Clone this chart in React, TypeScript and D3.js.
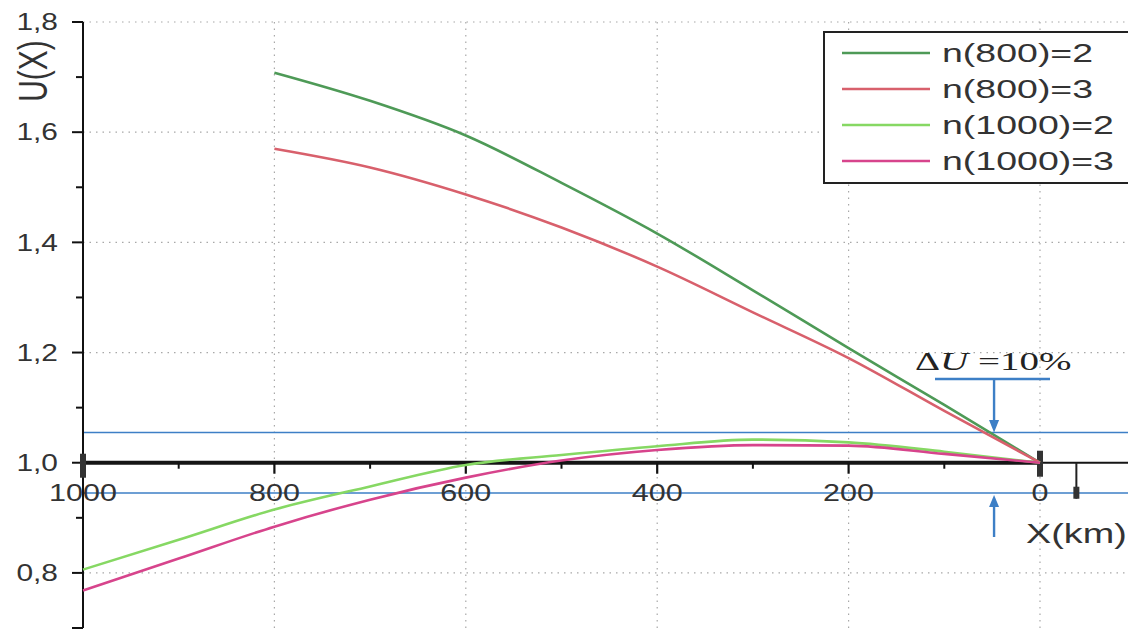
import * as d3 from "d3";

// distance along the line, km (1000 -> 0 is left to right)
const km800 = [800, 700, 600, 500, 400, 300, 200, 100, 0];
const km1000 = [1000, 900, 800, 700, 600, 500, 400, 300, 200, 100, 0];

const u800n2 = [1.708, 1.657, 1.594, 1.508, 1.416, 1.313, 1.208, 1.105, 1.0];
const u800n3 = [1.57, 1.536, 1.487, 1.427, 1.356, 1.273, 1.19, 1.094, 1.0];
const u1000n2 = [0.806, 0.86, 0.915, 0.957, 0.996, 1.014, 1.03, 1.042, 1.037, 1.02, 1.0];
const u1000n3 = [0.768, 0.826, 0.884, 0.933, 0.973, 1.004, 1.023, 1.032, 1.031, 1.016, 1.0];

const seriesNames = ["n(800)=2", "n(800)=3", "n(1000)=2", "n(1000)=3"];
const seriesColors = ["#4e9a57", "#d8606c", "#86d863", "#d7448c"];

const yTicks = [0.8, 1.0, 1.2, 1.4, 1.6, 1.8];
const yMinor = [0.7, 0.9, 1.1, 1.3, 1.5, 1.7];
const xTicks = [1000, 800, 600, 400, 200, 0];
const xMinor = [900, 700, 500, 300, 100];
const bandLevels = [1.055, 0.945];

const W = 1128;
const H = 631;

export default function App() {
  const x = d3.scaleLinear().domain([1000, 0]).range([83, 1040]);
  const y = d3.scaleLinear().domain([0.7, 1.8]).range([628, 22]);

  const series = [
    { km: km800, u: u800n2 },
    { km: km800, u: u800n3 },
    { km: km1000, u: u1000n2 },
    { km: km1000, u: u1000n3 },
  ];

  const line = d3
    .line<[number, number]>()
    .x((d) => x(d[0]))
    .y((d) => y(d[1]))
    .curve(d3.curveMonotoneX);

  const fmt = (v: number) => v.toFixed(1).replace(".", ",");
  const axisY = y(1.0);
  const arrowX = x(48);
  const labelColor = "#333";
  const blue = "#3d7fc6";
  // the source picture is stretched sideways, so the text is widened too
  const sx = 1.3;

  return (
    <svg
      width={W}
      height={H}
      style={{ position: "absolute", left: 0, top: 0, background: "#fff" }}
      fontFamily="Arial, 'Liberation Sans', sans-serif"
    >
      {/* dotted grid */}
      {yTicks
        .filter((t) => t !== 1.0)
        .map((t) => (
          <line
            key={"gy" + t}
            x1={x(1000)}
            x2={W}
            y1={y(t)}
            y2={y(t)}
            stroke="#a8a8a8"
            strokeWidth={1.2}
            strokeDasharray="1.5 5"
          />
        ))}
      {xTicks
        .filter((t) => t !== 1000)
        .map((t) => (
          <line
            key={"gx" + t}
            x1={x(t)}
            x2={x(t)}
            y1={y(1.8)}
            y2={H}
            stroke="#a8a8a8"
            strokeWidth={1.2}
            strokeDasharray="1.5 5"
          />
        ))}

      {/* ±5% band lines */}
      {bandLevels.map((b) => (
        <line
          key={"b" + b}
          x1={x(1000)}
          x2={W}
          y1={y(b)}
          y2={y(b)}
          stroke={blue}
          strokeWidth={1.4}
        />
      ))}

      {/* y axis */}
      <line x1={x(1000)} x2={x(1000)} y1={y(1.8)} y2={y(0.7)} stroke="#111" strokeWidth={2} />
      {yTicks.concat([0.7]).map((t) => (
        <line key={"yt" + t} x1={x(1000) - 11} x2={x(1000)} y1={y(t)} y2={y(t)} stroke="#111" strokeWidth={2} />
      ))}
      {yMinor.map((t) => (
        <line key={"ym" + t} x1={x(1000) - 7} x2={x(1000)} y1={y(t)} y2={y(t)} stroke="#111" strokeWidth={2} />
      ))}
      {yTicks.map((t) => (
        <text
          key={"yl" + t}
          transform={`translate(58,${y(t)}) scale(${sx},1)`}
          dy="0.36em"
          textAnchor="end"
          fontSize={23}
          fill={labelColor}
        >
          {fmt(t)}
        </text>
      ))}
      <text
        transform={`translate(47,71) scale(1.35,1) rotate(-90)`}
        textAnchor="middle"
        fontSize={30}
        fill={labelColor}
      >
        U(X)
      </text>

      {/* x axis at U = 1 */}
      <line x1={x(1000)} x2={x(0)} y1={axisY} y2={axisY} stroke="#151515" strokeWidth={4} />
      <line x1={x(0)} x2={W} y1={axisY} y2={axisY} stroke="#151515" strokeWidth={2} />
      <rect x={x(1000) - 3} y={axisY - 9} width={6} height={24} fill="#333" />
      <rect x={x(0) - 3} y={axisY - 12} width={6} height={26} fill="#333" />
      {xTicks
        .filter((t) => t !== 1000 && t !== 0)
        .map((t) => (
          <line key={"xt" + t} x1={x(t)} x2={x(t)} y1={axisY} y2={axisY + 11} stroke="#111" strokeWidth={2.2} />
        ))}
      {xMinor.map((t) => (
        <line key={"xm" + t} x1={x(t)} x2={x(t)} y1={axisY} y2={axisY + 6} stroke="#111" strokeWidth={2} />
      ))}
      <line x1={x(-38)} x2={x(-38)} y1={axisY} y2={axisY + 36} stroke="#222" strokeWidth={2} />
      <rect x={x(-38) - 3} y={axisY + 24} width={6} height={12} fill="#333" />
      {xTicks.map((t) => (
        <text
          key={"xl" + t}
          transform={`translate(${x(t)},501) scale(${sx},1)`}
          textAnchor="middle"
          fontSize={23.5}
          fill={labelColor}
        >
          {t}
        </text>
      ))}
      <text transform="translate(1026,543) scale(1.4,1)" fontSize={27} fill={labelColor}>
        X(km)
      </text>

      {/* curves */}
      {series.map((s, i) => (
        <path
          key={"s" + i}
          d={line(s.km.map((k, j) => [k, s.u[j]] as [number, number])) || ""}
          fill="none"
          stroke={seriesColors[i]}
          strokeWidth={2.6}
        />
      ))}

      {/* ΔU annotation */}
      <text
        transform="translate(915,370) scale(1.5,1)"
        fontSize={26}
        fontFamily="'Liberation Serif', 'DejaVu Serif', serif"
        fill="#222"
      >
        Δ<tspan fontStyle="italic">U</tspan> =10%
      </text>
      <line x1={935} x2={1050} y1={379} y2={379} stroke={blue} strokeWidth={2.4} />
      <line x1={arrowX} x2={arrowX} y1={379} y2={422} stroke={blue} strokeWidth={2.4} />
      <path
        d={`M${arrowX - 5},${420} L${arrowX + 5},${420} L${arrowX},${y(1.055)} Z`}
        fill={blue}
      />
      <line x1={arrowX} x2={arrowX} y1={537} y2={505} stroke={blue} strokeWidth={2.4} />
      <path
        d={`M${arrowX - 5},${507} L${arrowX + 5},${507} L${arrowX},${y(0.945) + 2} Z`}
        fill={blue}
      />

      {/* legend */}
      <rect x={824} y={32} width={320} height={151} fill="#fff" stroke="#222" strokeWidth={2} />
      {seriesNames.map((n, i) => (
        <g key={"lg" + i} transform={`translate(0,${53 + i * 36})`}>
          <line x1={842} x2={930} y1={0} y2={0} stroke={seriesColors[i]} strokeWidth={2.6} />
          <text transform="translate(942,0) scale(1.5,1)" dy="0.36em" fontSize={25} fill="#333">
            {n}
          </text>
        </g>
      ))}
    </svg>
  );
}
